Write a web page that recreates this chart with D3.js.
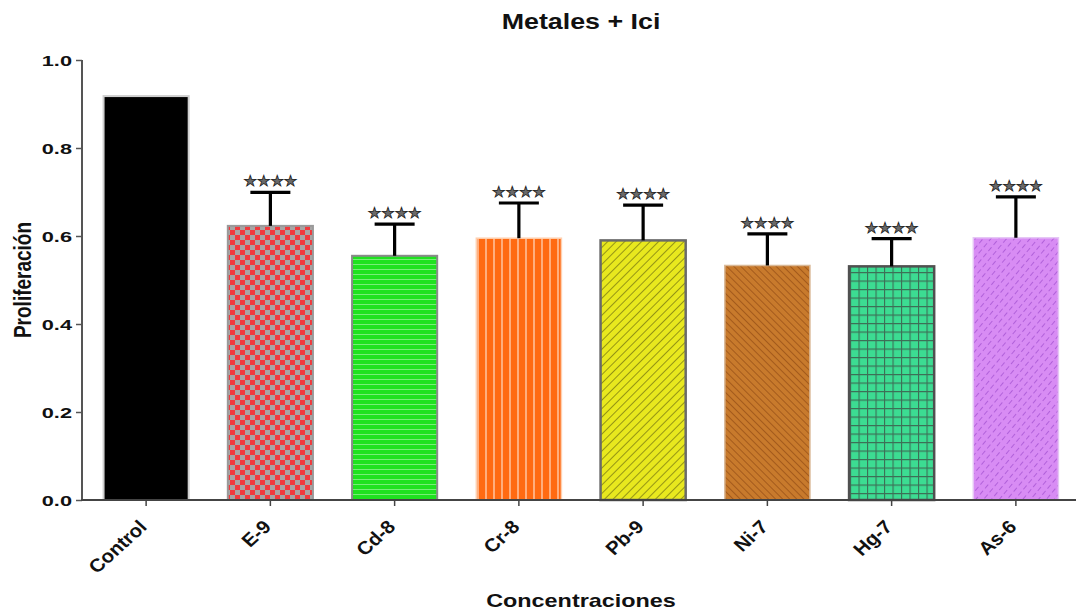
<!DOCTYPE html>
<html>
<head>
<meta charset="utf-8">
<script src="https://cdn.jsdelivr.net/npm/d3@7"></script>
<style>
  html, body { margin: 0; padding: 0; background: #fff; }
  svg { display: block; }
  text { font-family: "Liberation Sans", Arial, sans-serif; font-weight: bold; fill: #111; }
</style>
</head>
<body>
<svg id="chart" width="1076" height="612"></svg>
<script>
// Proliferation per treatment (mean and upper error)
const categories = ["Control", "E-9", "Cd-8", "Cr-8", "Pb-9", "Ni-7", "Hg-7", "As-6"];
const means      = [0.918, 0.623, 0.555, 0.595, 0.590, 0.533, 0.531, 0.596];
const errors     = [null, 0.076, 0.072, 0.080, 0.080, 0.072, 0.063, 0.093];
const stars      = ["", "****", "****", "****", "****", "****", "****", "****"];
const yTicks     = [0.0, 0.2, 0.4, 0.6, 0.8, 1.0];

const svg = d3.select("#chart");
const defs = svg.append("defs");

// Fill patterns for each bar
function pat(id, w, h, bg) {
  const p = defs.append("pattern").attr("id", id)
    .attr("patternUnits", "userSpaceOnUse").attr("width", w).attr("height", h);
  p.append("rect").attr("width", w).attr("height", h).attr("fill", bg);
  return p;
}
// checkerboard
let p = pat("p-e9", 10, 10, "#a9a4a4");
p.append("rect").attr("width", 5).attr("height", 5).attr("fill", "#f03a3e");
p.append("rect").attr("x", 5).attr("y", 5).attr("width", 5).attr("height", 5).attr("fill", "#f03a3e");
// horizontal stripes
p = pat("p-cd8", 10, 5, "#1fe21f");
p.append("line").attr("x1", 0).attr("x2", 10).attr("y1", 4.5).attr("y2", 4.5).attr("stroke", "#78ee78").attr("stroke-width", 1);
// vertical stripes
p = pat("p-cr8", 8, 10, "#ff6a12");
p.append("line").attr("x1", 6).attr("x2", 6).attr("y1", 0).attr("y2", 10).attr("stroke", "#ffbf98").attr("stroke-width", 1.6);
// forward diagonal
p = pat("p-pb9", 6, 6, "#e8e81e");
p.attr("patternTransform", "rotate(45)");
p.append("line").attr("x1", 0).attr("x2", 0).attr("y1", 0).attr("y2", 6).attr("stroke", "#7e7e12").attr("stroke-width", 1.6);
// backward diagonal
p = pat("p-ni7", 5, 5, "#c87a2c");
p.attr("patternTransform", "rotate(-45)");
p.append("line").attr("x1", 0).attr("x2", 0).attr("y1", 0).attr("y2", 5).attr("stroke", "#9a5218").attr("stroke-width", 1.6);
// grid
p = pat("p-hg7", 8.5, 8.5, "#3cdc92");
p.append("path").attr("d", "M0,0H8.5M0,0V8.5").attr("stroke", "#3d6e56").attr("stroke-width", 2.2).attr("fill", "none");
// dashed diagonal
p = pat("p-as6", 6, 8, "#d88cf4");
p.attr("patternTransform", "rotate(40)");
p.append("line").attr("x1", 0).attr("x2", 0).attr("y1", 0).attr("y2", 5).attr("stroke", "#a452d2").attr("stroke-width", 1.5);

const fills   = ["#000000", "url(#p-e9)", "url(#p-cd8)", "url(#p-cr8)", "url(#p-pb9)", "url(#p-ni7)", "url(#p-hg7)", "url(#p-as6)"];
const strokes = ["#cfcfcf", "#9a9a9a", "#8a8a8a", "#ffd0b0", "#6a6a6a", "#d9b896", "#505050", "#e6c6f6"];
const strokeW = [2, 2, 2, 1.5, 2.5, 1.5, 2.5, 1.5];

const x = d3.scaleBand().domain(categories).range([84, 1078]).paddingInner(0.315).paddingOuter(0.1575);
const y = d3.scaleLinear().domain([0, 1]).range([500, 60]);

// bars
svg.append("g").selectAll("rect").data(categories).join("rect")
  .attr("x", d => x(d)).attr("width", x.bandwidth())
  .attr("y", (d, i) => y(means[i])).attr("height", (d, i) => y(0) - y(means[i]))
  .attr("fill", (d, i) => fills[i])
  .attr("stroke", (d, i) => strokes[i]).attr("stroke-width", (d, i) => strokeW[i]);

// upper error bars
const eb = svg.append("g").attr("stroke", "#000").attr("stroke-width", 3.2);
categories.forEach((c, i) => {
  if (errors[i] == null) return;
  const cx = x(c) + x.bandwidth() / 2;
  const top = y(means[i] + errors[i]);
  eb.append("line").attr("x1", cx).attr("x2", cx).attr("y1", y(means[i])).attr("y2", top);
  eb.append("line").attr("x1", cx - 20).attr("x2", cx + 20).attr("y1", top).attr("y2", top);
});

// significance marks
svg.append("g").selectAll("text").data(categories).join("text")
  .attr("transform", (d, i) => `translate(${x(d) + x.bandwidth() / 2},${y(means[i] + (errors[i] || 0)) - 6})`)
  .attr("text-anchor", "middle")
  .style("font-family", "'DejaVu Sans', sans-serif").style("font-size", "15px")
  .style("fill", "#6a6a6a").style("stroke", "#222").style("stroke-width", "0.8px")
  .text((d, i) => stars[i] ? stars[i].replace(/\*/g, "\u2605") : "");

// y axis
const yAxis = svg.append("g").attr("transform", "translate(82,0)")
  .call(d3.axisLeft(y).tickValues(yTicks).tickFormat(d3.format(".1f")).tickSize(6).tickPadding(4));
yAxis.select(".domain").attr("stroke", "#555").attr("stroke-width", 2).attr("d", "M0,60V500");
yAxis.selectAll(".tick line").attr("stroke", "#555").attr("stroke-width", 1.5);
yAxis.selectAll(".tick text")
  .attr("x", null).attr("dy", "0.35em")
  .attr("transform", "translate(-10,0) scale(1.45,1)")
  .style("font-size", "15px").style("fill", "#111");

// x axis
const xAxis = svg.append("g").attr("transform", "translate(0,500)")
  .call(d3.axisBottom(x).tickSize(6).tickSizeOuter(0));
xAxis.select(".domain").attr("stroke", "#444").attr("stroke-width", 2).attr("d", "M81,0H1076");
xAxis.selectAll(".tick line").attr("stroke", "#444").attr("stroke-width", 1.5);
xAxis.selectAll(".tick text")
  .attr("y", null).attr("dy", null)
  .attr("text-anchor", "end")
  .attr("transform", "translate(2,28) scale(1.1,1) rotate(-45)")
  .style("font-size", "18.5px").style("fill", "#111");

// titles
svg.append("text").attr("transform", "translate(581,29) scale(1.22,1)")
  .attr("text-anchor", "middle").style("font-size", "22px").text("Metales + Ici");
svg.append("text").attr("transform", "translate(581,607) scale(1.3,1)")
  .attr("text-anchor", "middle").style("font-size", "18px").text("Concentraciones");
svg.append("text").attr("transform", "translate(31,280) scale(1.25,1) rotate(-90)")
  .attr("text-anchor", "middle").style("font-size", "19px").text("Proliferación");
</script>
</body>
</html>
